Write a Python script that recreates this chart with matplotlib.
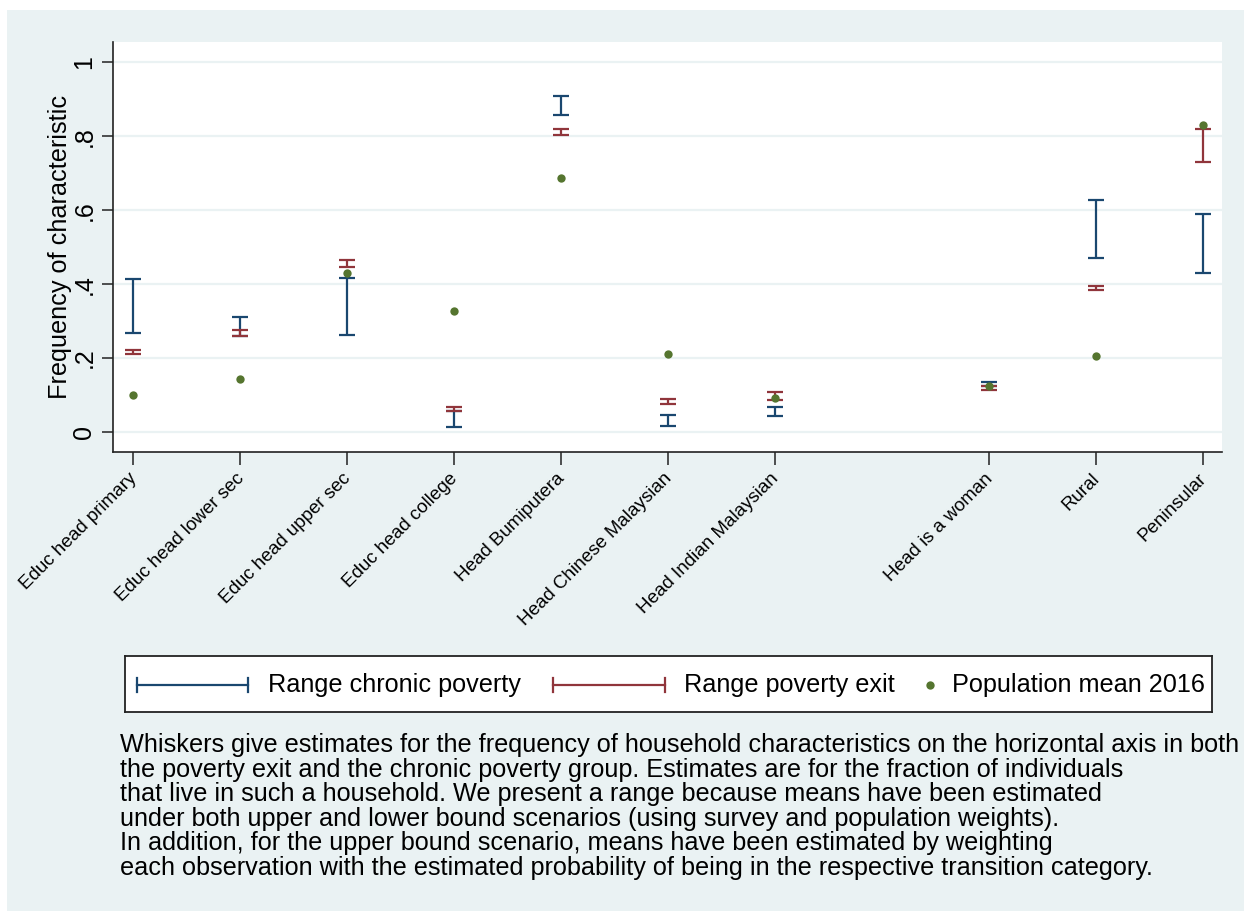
import matplotlib
matplotlib.use("Agg")
import matplotlib.pyplot as plt
import matplotlib.transforms as mtransforms
from matplotlib.patches import Rectangle
from matplotlib.lines import Line2D
import numpy as np

plt.rcParams['font.family'] = ['Liberation Sans', 'DejaVu Sans']

# Characteristics and their positions on the horizontal axis
categories = ["Educ head primary", "Educ head lower sec", "Educ head upper sec",
              "Educ head college", "Head Bumiputera", "Head Chinese Malaysian",
              "Head Indian Malaysian", "Head is a woman", "Rural", "Peninsular"]
positions = [0, 1, 2, 3, 4, 5, 6, 8, 9, 10]

# Lower / upper bound estimates, chronic poverty group
chronic_low = [0.269, 0.260, 0.262, 0.014, 0.857, 0.016, 0.043, 0.125, 0.470, 0.431]
chronic_high = [0.415, 0.312, 0.416, 0.057, 0.909, 0.047, 0.068, 0.136, 0.628, 0.589]

# Lower / upper bound estimates, poverty exit group
exit_low = [0.212, 0.260, 0.446, 0.057, 0.803, 0.077, 0.088, 0.114, 0.384, 0.731]
exit_high = [0.223, 0.275, 0.465, 0.067, 0.820, 0.090, 0.109, 0.125, 0.396, 0.819]

# Population mean, 2016
pop_mean = [0.099, 0.144, 0.429, 0.327, 0.686, 0.210, 0.093, 0.124, 0.207, 0.831]

yticks = [0, 0.2, 0.4, 0.6, 0.8, 1.0]
ytick_labels = ["0", ".2", ".4", ".6", ".8", "1"]

caption_lines = [
    "Whiskers give estimates for the frequency of household characteristics on the horizontal axis in both",
    "the poverty exit and the chronic poverty group. Estimates are for the fraction of individuals",
    "that live in such a household. We present a range because means have been estimated",
    "under both upper and lower bound scenarios (using survey and population weights).",
    "In addition, for the upper bound scenario, means have been estimated by weighting",
    "each observation with the estimated probability of being in the respective transition category.",
]

NAVY = "#1a476f"
MAROON = "#90353b"
GREEN = "#55752f"
BG = "#eaf2f3"

W, H = 1244, 911
fig = plt.figure(figsize=(W / 100, H / 100), dpi=100, facecolor="white")
fig.patches.append(Rectangle((7 / W, 0), 1 - 7 / W, 1 - 10 / H, transform=fig.transFigure,
                             facecolor=BG, edgecolor="none", zorder=-10))


def fx(px):
    return px / W


def fy(py):
    return 1 - py / H


ax = fig.add_axes([fx(113), fy(452), fx(1222 - 113), (452 - 42) / H])
ax.set_facecolor("white")
ax.set_xlim(-0.19, 10.18)
ax.set_ylim(-0.054, 1.055)

for y in yticks:
    ax.axhline(y, color=BG, lw=1.6, zorder=0)

pos = np.array(positions)
lo = np.array(chronic_low)
hi = np.array(chronic_high)
ax.errorbar(pos, lo, yerr=[np.zeros_like(lo), hi - lo], fmt="none", ecolor=NAVY,
            elinewidth=1.6, capsize=5.8, capthick=1.6, zorder=3)
lo2 = np.array(exit_low)
hi2 = np.array(exit_high)
ax.errorbar(pos, lo2, yerr=[np.zeros_like(lo2), hi2 - lo2], fmt="none", ecolor=MAROON,
            elinewidth=1.6, capsize=5.8, capthick=1.6, zorder=4)
ax.plot(pos, pop_mean, "o", color=GREEN, markersize=6, markeredgewidth=0, zorder=5)

for s in ["top", "right"]:
    ax.spines[s].set_visible(False)
for s in ["left", "bottom"]:
    ax.spines[s].set_color("#222222")
    ax.spines[s].set_linewidth(1.2)

ax.set_yticks(yticks)
ax.set_yticklabels(ytick_labels, rotation=90, va="center", fontsize=18)
ax.tick_params(axis="y", length=8, width=1.1, color="#222222", pad=4)
ax.set_xticks(positions)
ax.set_xticklabels(categories, rotation=45, ha="right", va="top",
                   rotation_mode="anchor", fontsize=13.5)
ax.tick_params(axis="x", length=9, width=1.1, color="#222222", pad=4)
shift = mtransforms.ScaledTranslation(-5 / 100, 0, fig.dpi_scale_trans)
for lab in ax.get_xticklabels():
    lab.set_transform(lab.get_transform() + shift)
ax.set_ylabel("Frequency of characteristic", fontsize=18.2, labelpad=0)

# Legend box
lax = fig.add_axes([fx(125), fy(712), fx(1212 - 125), (712 - 656) / H])
lax.set_xlim(125, 1212)
lax.set_ylim(712, 656)
lax.set_xticks([])
lax.set_yticks([])
for s in lax.spines.values():
    s.set_color("#222222")
    s.set_linewidth(1.3)
ly = 685
for x0, x1, c, label, tx in [(137, 248, NAVY, "Range chronic poverty", 268),
                             (553, 665, MAROON, "Range poverty exit", 684)]:
    lax.add_line(Line2D([x0, x1], [ly, ly], color=c, lw=1.6))
    for xe in (x0, x1):
        lax.add_line(Line2D([xe, xe], [ly - 7, ly + 7], color=c, lw=1.6))
    lax.text(tx, ly, label, fontsize=18.2, va="center", ha="left")
lax.plot([930], [ly], "o", color=GREEN, markersize=6, markeredgewidth=0)
lax.text(952, ly, "Population mean 2016", fontsize=18.2, va="center", ha="left")

# Notes below the chart
for i, line in enumerate(caption_lines):
    fig.text(fx(120), fy(745 + 24.6 * i), line, fontsize=18.2, va="center", ha="left")

fig.savefig("out.png", dpi=100, facecolor="white")
